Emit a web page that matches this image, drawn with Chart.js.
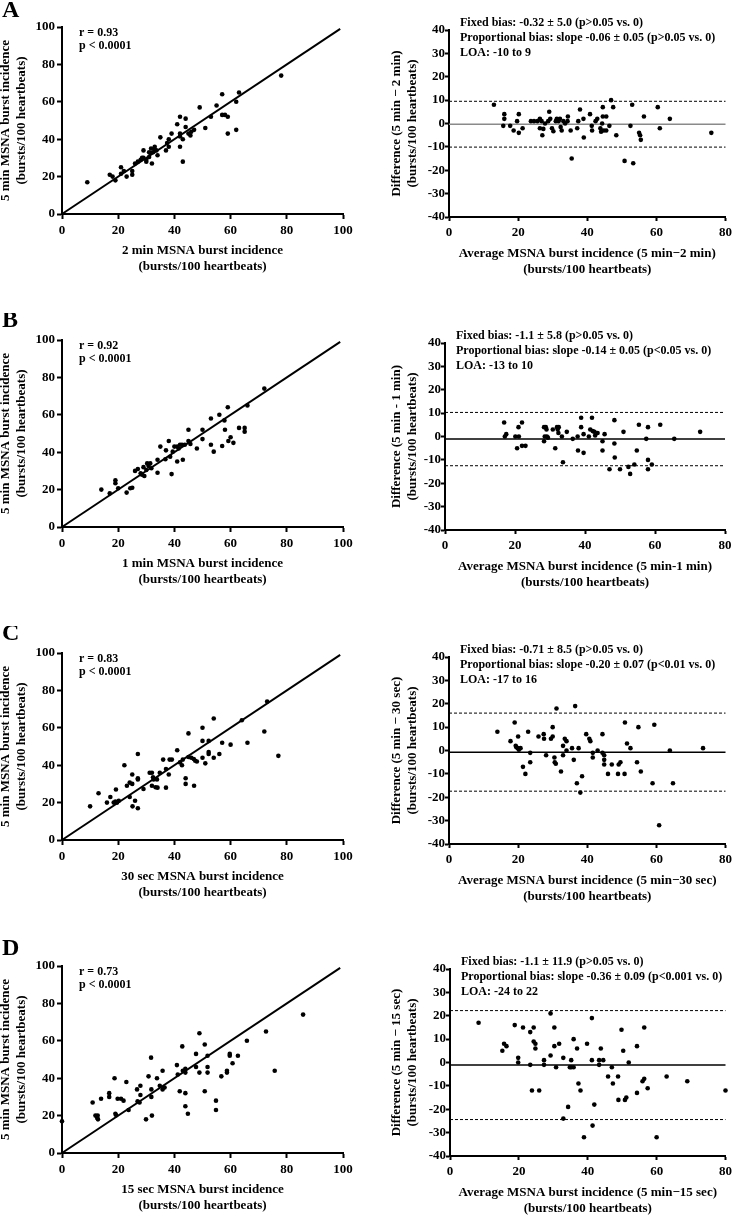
<!DOCTYPE html>
<html>
<head>
<meta charset="utf-8">
<script src="https://cdn.jsdelivr.net/npm/chart.js@4.4.0/dist/chart.umd.min.js"></script>
<style>
  body { margin: 0; background: #fff; }
  #page { position: relative; width: 736px; height: 1219px; overflow: hidden; background: #fff; }
  #page canvas { position: absolute; }
</style>
</head>
<body>
<div id="page"></div>
<script>
// --- data -----------------------------------------------------------------
const panelLetters = ['A', 'B', 'C', 'D'];
const shortWindows = ['2 min', '1 min', '30 sec', '15 sec'];
const rValues = ['0.93', '0.92', '0.83', '0.73'];
const pValue = 'p < 0.0001';

// correlation: [short window, 5 min] burst incidence
const corrA = [[9,17],[17,21],[18,20],[19,18],[21,25],[21,21.5],[22,23],[23,20],[25,23],[25,21],[26,27],[27,28],[28,29],[28.5,30],[29,34],[29,30],[30,28],[30,29],[31,30.5],[31,33],[31.4,32.6],[31.7,35],[32,27],[32.4,33],[33,36],[33,34.4],[33.6,34],[34,31.4],[35,41],[37,34],[37.4,38],[38,40],[38,36],[39,43],[41,48],[42,52],[42,43],[42,41.5],[42,36],[43,28],[43,40],[44,51],[44,46.5],[45,43],[45.7,42],[46,44],[47,45],[49,57],[51,46],[53,52],[55,58],[57,64],[57,53],[58,53],[59,52],[59,43],[62,60],[62,45],[63,65],[78,74]];
const corrB = [[14,20],[17,18],[19,25],[19,23.4],[20,20.7],[23,18.4],[24.3,20.7],[25,21],[26,30],[27,31],[28,28.7],[28.5,28],[29,32],[29.3,27.3],[30,30.5],[30.3,34],[30.8,32.6],[31.4,34],[31.8,31.4],[34,36],[34,29],[35,43],[36.8,36.2],[37,41],[38,46],[38.5,37.6],[39,28.3],[39.4,40.3],[40,43],[41,43],[41,35],[41.5,42],[42,44],[42.7,44],[43,36],[43.7,44],[45,52],[45,46],[45.7,44.4],[48,42],[50,52],[50,47],[53,58],[53,44],[54,40.3],[56,60],[57,43.3],[57.8,57],[58,52],[59,64],[59.2,46],[60,48],[61,45],[63,53],[65,53],[65,51],[66,65],[72,74]];
const corrC = [[10,18],[13,25],[16,20],[17.2,23],[18.4,20],[19,20.5],[19.6,20],[19.2,27],[20.2,21],[22.2,40],[23.1,29],[24.1,30.7],[24.1,23],[25,35],[25,30],[25.1,18],[26,21],[27,46],[27,33],[27,32.4],[27,17],[29,27.3],[31.2,36],[32,36],[32,29],[32.4,33.5],[32.6,32.4],[33.3,28.2],[34,28],[33.8,32.4],[34.8,36],[36,43],[37,38],[37,28],[38,35],[38.3,43],[39.1,43],[41,48],[42,41.5],[42.7,40],[43,43],[44,33],[44,30],[45,57],[45,44.4],[46,44],[46.9,43.3],[47.4,42.4],[48,42],[47,29],[50,60],[50,53],[50,44],[51,41],[52.2,53],[52.2,47],[52.2,46],[54,65],[54,44],[56,46],[57,52],[60,51],[64,64],[66,52],[72,58],[73,74],[77,45]];
const corrD = [[0,17],[10.9,27],[11.9,20],[12.7,20],[12.8,18],[12.5,18.8],[13.9,29],[16.8,32],[16.8,30],[18.7,40],[19,21],[19.3,20.2],[19.8,29],[21,29],[21.9,28],[22.9,38],[23.7,23],[26.7,34],[26.9,27.7],[27.6,27],[27.9,36],[27.9,31],[29.9,18],[30.8,41],[31.7,51],[31.8,34],[31.8,30],[32,20],[33.8,40],[34.8,36],[35.8,44],[35.8,34],[36.5,35],[40.9,47],[41.2,42],[41.9,33],[42.8,57],[43,44],[43.9,45],[43.9,43],[43.9,32],[43.9,25],[44.8,21],[47.7,53],[47.7,46],[48.9,64],[48.9,43],[50.8,58],[50.8,33],[51.8,52],[51.8,46],[51.8,43],[54.8,28],[54.8,23],[56.7,41],[58.7,43],[58.7,44],[59.7,53],[59.7,52],[60.7,48],[62.6,52],[65.8,60],[72.6,65],[75.7,44],[85.8,74]];
const identityLine = [0, 99];

// Bland-Altman: [average, difference]
const baA = [[13,8],[16,4],[16,2],[15.7,-1],[17.7,-1],[18.7,-3],[19.7,1],[20.2,4],[20.2,-4],[21.3,-2],[23.7,1],[24.6,1],[25.6,1],[26.3,2],[26.3,-2],[26.8,1],[27.3,-2.3],[27,-5],[27.8,0],[28.7,1],[29,5],[29.3,2],[29.8,-2],[30.2,-3.3],[30.9,1],[31.2,2],[31.7,1],[32.1,2],[32.3,-1.5],[32.6,-3],[33.1,1],[33.6,0],[34.4,3],[34.3,1],[35.2,-3],[35.5,-15],[37.1,-2],[37.4,1],[37.9,6],[38.9,2],[39,-6],[40.8,4],[41.3,-1],[41.4,-3],[42.4,1],[42.9,2],[43.8,-2],[44,-3.5],[44.3,0],[44.5,7],[44.5,3],[44.8,-3],[45.5,3],[45.5,-3],[46.4,-1],[46.9,10],[47.5,7],[48.4,-5],[52.5,-1],[53,8],[50.8,-16],[53.3,-17],[55,-4],[55.3,-5],[55.5,-7],[56.4,3],[60.4,7],[61,-2],[63.9,2],[75.9,-4]];
const baB = [[16.9,6],[17.1,0],[17.5,1],[20.1,0],[20.6,-5],[21,4],[21.1,0],[22,6],[22,-4],[23,-4],[28.3,4],[28.8,4],[29,3],[28.5,0],[28.3,-2],[29.1,0],[29.4,-0.5],[30.8,3],[31.5,-5],[32,4],[32.2,3],[32.4,1.5],[32.5,4],[33.4,0],[33.7,-11],[34.8,2],[36.5,-1],[37.9,0],[38,-6],[38.9,8],[38.9,4],[39.6,1],[39.6,-7],[41.1,0],[41.5,3],[42,8],[42.2,2.3],[42.7,2],[42.9,0.4],[43.6,1.5],[45,-2],[45,-6],[45.6,1],[47,-14],[48.4,7],[48.4,-3],[48.5,-9],[50,-14],[51,2],[52.4,-13],[52.9,-16],[54.1,-12],[54.8,-6],[55.4,5],[57.5,-1],[58,4],[58,-10],[58,-14],[59.1,-12],[61.5,5],[65.5,-1],[72.9,2]];
const baC = [[14,8],[17.8,4],[19,12],[19.3,2],[19.5,1.4],[19.9,1],[20,6],[20.2,0.3],[20.7,1],[21.4,-7],[22.1,-10],[22.9,8],[23.5,-1],[23.5,-5],[25.9,6],[27.4,7],[27.5,5],[28.1,-2],[29.5,5],[30,6],[30,10],[30.5,-3],[30.6,-5],[30.9,-5.7],[31.1,18],[32.4,-9],[33,2],[33,-2],[33.5,5],[34,4],[34,0],[35.6,1],[36.1,-4],[36.5,19],[37,-14],[37.5,1],[38,-18],[38.5,-11],[39.7,7],[40.6,5],[40.9,4],[41.6,-3],[41.6,-1],[43,0],[44.4,7],[44.4,-1],[44.9,-2],[44.9,-4],[44.9,-6],[46,-10],[47.1,-6],[48.9,-10],[49.1,-6],[49.6,-5],[50.8,-10],[50.9,12],[51.5,3],[52.5,1],[54.4,-5],[54.8,10],[55.5,-9],[58.9,-14],[59.4,11],[60.8,-32],[63.9,0],[64.8,-14],[73.5,1]];
const baD = [[8.3,17],[15.2,5],[15.7,8],[16.4,7],[18.8,16],[19.8,2],[19.8,0],[21.2,15],[23.3,13],[23.3,-1],[23.8,-12],[24.3,15],[24.3,9],[24.8,8],[24.8,6],[25.9,-12],[27.3,1],[27.3,-1],[29.2,21],[29.2,3],[30.3,15],[30.3,7],[30.8,-2],[31.7,8],[32.9,2],[32.9,-24],[34.3,-19],[34.8,-2],[35.2,-2],[35.2,1],[35.9,10],[35.9,-2],[36.9,6],[37.3,-9],[37.9,-12],[38.9,-32],[39.8,8],[41.2,19],[41.2,1],[41.4,-27],[41.9,-18],[43.3,-1],[43.3,1],[43.8,6],[44.5,1],[45.9,-6],[47,-2],[47.3,-9],[48.8,-6],[48.9,-16],[49.8,14],[50.3,5],[50.8,-16],[51.2,-15],[51.9,0],[54.3,7],[54.3,-13],[55.9,-8],[56.4,-7],[56.4,15],[57.4,-11],[60,-32],[62.9,-6],[68.9,-8],[80,-12]];

const fixedBias = [-0.32, -1.1, -0.71, -1.1];
const loaUpper = [9.5, 10.3, 16, 22.2];
const loaLower = [-10.1, -12.5, -17.4, -24.4];
const baRange = [0, 80];

const biasText = [
  ['Fixed bias: -0.32 \u00b1 5.0 (p>0.05 vs. 0)', 'Proportional bias: slope -0.06 \u00b1 0.05 (p>0.05 vs. 0)', 'LOA: -10 to 9'],
  ['Fixed bias: -1.1 \u00b1 5.8 (p>0.05 vs. 0)', 'Proportional bias: slope -0.14 \u00b1 0.05 (p<0.05 vs. 0)', 'LOA: -13 to 10'],
  ['Fixed bias: -0.71 \u00b1 8.5 (p>0.05 vs. 0)', 'Proportional bias: slope -0.20 \u00b1 0.07 (p<0.01 vs. 0)', 'LOA: -17 to 16'],
  ['Fixed bias: -1.1 \u00b1 11.9 (p>0.05 vs. 0)', 'Proportional bias: slope -0.36 \u00b1 0.09 (p<0.001 vs. 0)', 'LOA: -24 to 22']
];
const diffTitles = ['Difference (5 min \u2212 2 min)', 'Difference (5 min - 1 min)', 'Difference (5 min \u2212 30 sec)', 'Difference (5 min \u2212 15 sec)'];
const avgTitles = ['Average MSNA burst incidence (5 min\u22122 min)', 'Average MSNA burst incidence (5 min-1 min)', 'Average MSNA burst incidence (5 min\u221230 sec)', 'Average MSNA burst incidence (5 min\u221215 sec)'];
const unitText = '(bursts/100 heartbeats)';

const corrData = [corrA, corrB, corrC, corrD];
const baData = [baA, baB, baC, baD];

// --- layout ---------------------------------------------------------------
const SERIF = "'Liberation Serif', 'Times New Roman', serif";
const leftTops = [27, 340, 653, 966];
const rightTops = [29.5, 342.5, 656.5, 969];
const rightLefts = [449, 445, 449, 450];
const rightRights = [728, 725, 730, 730];
const letterBase = [17, 327, 640, 955];
const PLOT_H = 187;
const X_BOX = 61;

const page = document.getElementById('page');

Chart.register({
  id: 'notes',
  afterDraw(chart, args, opts) {
    if (!opts || !opts.lines) return;
    const {ctx, chartArea} = chart;
    ctx.save();
    ctx.fillStyle = '#000';
    ctx.font = 'bold 12px ' + SERIF;
    ctx.textBaseline = 'middle';
    opts.lines.forEach((t, i) => ctx.fillText(t, chartArea.left + opts.dx, chartArea.top + opts.dy[i]));
    if (opts.letter) {
      ctx.font = 'bold 24px ' + SERIF;
      ctx.textBaseline = 'alphabetic';
      ctx.fillText(opts.letter, opts.letterX, opts.letterY);
    }
    ctx.restore();
  }
});

function axis(min, max, step, titleLines, tickLen, tickPad) {
  return {
    type: 'linear', min: min, max: max,
    ticks: { stepSize: step, color: '#000', padding: tickPad, autoSkip: false, maxRotation: 0,
             font: { family: SERIF, size: 13, weight: 'bold' } },
    grid: { display: true, drawOnChartArea: false, drawTicks: true, tickLength: tickLen, tickWidth: 2, tickColor: '#000' },
    border: { display: true, color: '#000', width: 2 },
    title: { display: true, text: titleLines, color: '#000', padding: 0,
             font: { family: SERIF, size: 13, weight: 'bold', lineHeight: '16px' } }
  };
}

function addChart(box, plot, datasets, xAxis, yAxis, notes) {
  const c = document.createElement('canvas');
  c.width = box.w; c.height = box.h;
  c.style.left = box.x + 'px'; c.style.top = box.y + 'px';
  page.appendChild(c);
  const yw = plot.l - box.x;
  xAxis.afterFit = s => { s.height = X_BOX; };
  yAxis.afterFit = s => { s.width = yw; };
  new Chart(c, {
    type: 'scatter',
    data: { datasets: datasets },
    options: {
      responsive: false, animation: false, events: [],
      layout: { padding: { left: 0, top: plot.t - box.y, right: box.x + box.w - plot.r,
                           bottom: box.y + box.h - plot.b - X_BOX } },
      plugins: { legend: { display: false }, tooltip: { enabled: false }, notes: notes },
      scales: { x: xAxis, y: yAxis }
    }
  });
}

const pts = arr => arr.map(p => ({ x: p[0], y: p[1] }));
const dots = arr => ({ data: pts(arr), pointRadius: 2.3, pointBackgroundColor: '#000', pointBorderWidth: 0, clip: false });
const hline = (y, color, width, dash) => ({
  data: baRange.map(x => ({ x: x, y: y })), showLine: true, pointRadius: 0,
  borderColor: color, borderWidth: width, borderDash: dash, clip: false
});

for (let i = 0; i < 4; i++) {
  // left: correlation
  const lt = leftTops[i];
  const lbox = { x: -2, y: lt - 27, w: 372, h: 300 };
  addChart(lbox, { l: 62, r: 343, t: lt, b: lt + PLOT_H }, [
    dots(corrData[i]),
    { data: identityLine.map(v => ({ x: v, y: v })), showLine: true, pointRadius: 0, borderColor: '#000', borderWidth: 2, clip: false }
  ],
  axis(0, 100, 20, [shortWindows[i] + ' MSNA burst incidence', unitText], 5, 4),
  axis(0, 100, 20, ['5 min MSNA burst incidence', unitText], 5, 2),
  { lines: ['r = ' + rValues[i], pValue], dx: 17, dy: [6, 19],
    letter: panelLetters[i], letterX: 4, letterY: letterBase[i] - lbox.y });

  // right: Bland-Altman
  const rt = rightTops[i];
  const rbox = { x: 389, y: rt - 30, w: 347, h: 300 };
  addChart(rbox, { l: rightLefts[i], r: rightRights[i], t: rt, b: rt + PLOT_H }, [
    dots(baData[i]),
    hline(fixedBias[i], i === 0 ? '#8a8a8a' : '#000', 1.5, []),
    hline(loaUpper[i], '#000', 1, [3, 2]),
    hline(loaLower[i], '#000', 1, [3, 2])
  ],
  axis(0, 80, 20, [avgTitles[i], unitText], 4, 4),
  axis(-40, 40, 10, [diffTitles[i], unitText], 4, 0),
  { lines: biasText[i], dx: 11, dy: [-7, 8, 23] });
}
</script>
</body>
</html>
